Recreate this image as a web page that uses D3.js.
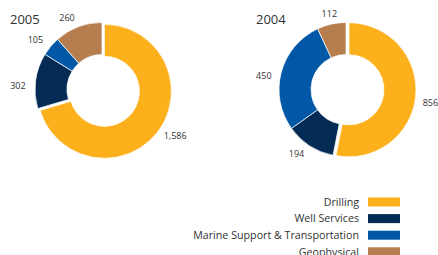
<!DOCTYPE html>
<html>
<head>
<meta charset="utf-8">
<script src="https://cdn.jsdelivr.net/npm/d3@7"></script>
<style>
  body { margin: 0; background: #fff; }
  svg text { font-family: "Open Sans", sans-serif; fill: #333; }
</style>
</head>
<body>
<svg id="chart" width="438" height="255"></svg>
<script>
// segments, same order for both years
var categories = ["Drilling", "Well Services", "Marine Support & Transportation", "Geophysical"];
var colors = ["#fbb01c", "#032b53", "#0058a6", "#b67e4e"];

var years = ["2005", "2004"];
var values2005 = [1586, 302, 105, 260];
var values2004 = [856, 194, 450, 112];
var labels2005 = ["1,586", "302", "105", "260"];
var labels2004 = ["856", "194", "450", "112"];

var svg = d3.select("#chart");

var outerR = 67, innerR = 35, labelR = 77, pull = 3;

var pie = d3.pie().sort(null).value(function(d) { return d; });
var arc = d3.arc().innerRadius(innerR).outerRadius(outerR);
var labelArc = d3.arc().innerRadius(labelR).outerRadius(labelR);

function midAngle(d) { return (d.startAngle + d.endAngle) / 2; }

function donut(cx, cy, title, titleX, vals, labs) {
  var g = svg.append("g").attr("transform", "translate(" + cx + "," + cy + ")");
  var slices = pie(vals);

  g.selectAll("path")
    .data(slices)
    .enter()
    .append("path")
    .attr("d", arc)
    .attr("fill", function(d, i) { return colors[i]; })
    .attr("stroke", "#fff")
    .attr("stroke-width", 0.7)
    .attr("transform", function(d, i) {
      // drilling slice is pulled out a little
      if (i !== 0) return null;
      var a = midAngle(d);
      return "translate(" + (Math.sin(a) * pull) + "," + (-Math.cos(a) * pull) + ")";
    });

  g.selectAll("text.val")
    .data(slices)
    .enter()
    .append("text")
    .attr("class", "val")
    .attr("font-size", 9)
    .attr("dy", "0.35em")
    .attr("x", function(d) { return labelArc.centroid(d)[0]; })
    .attr("y", function(d) {
      var y = labelArc.centroid(d)[1];
      // side labels sit a bit lower
      if (Math.abs(Math.sin(midAngle(d))) > 0.9) y += 6;
      return y;
    })
    .attr("text-anchor", function(d) {
      var s = Math.sin(midAngle(d));
      if (s > 0.3) return "start";
      if (s < -0.3) return "end";
      return "middle";
    })
    .text(function(d, i) { return labs[i]; });

  svg.append("text")
    .attr("x", titleX)
    .attr("y", 24)
    .attr("font-size", 13)
    .text(title);
}

donut(102, 89.5, years[0], 10, values2005, labels2005);
donut(346, 89.5, years[1], 256, values2004, labels2004);

// legend
var leg = svg.append("g");
var rows = leg.selectAll("g")
  .data(categories)
  .enter()
  .append("g")
  .attr("transform", function(d, i) { return "translate(0," + (202 + i * 16.6) + ")"; });

rows.append("text")
  .attr("x", 359)
  .attr("dy", "0.35em")
  .attr("text-anchor", "end")
  .attr("font-size", 10.7)
  .text(function(d) { return d; });

rows.append("rect")
  .attr("x", 368)
  .attr("y", -4.5)
  .attr("width", 32)
  .attr("height", 9)
  .attr("fill", function(d, i) { return colors[i]; });
</script>
</body>
</html>
